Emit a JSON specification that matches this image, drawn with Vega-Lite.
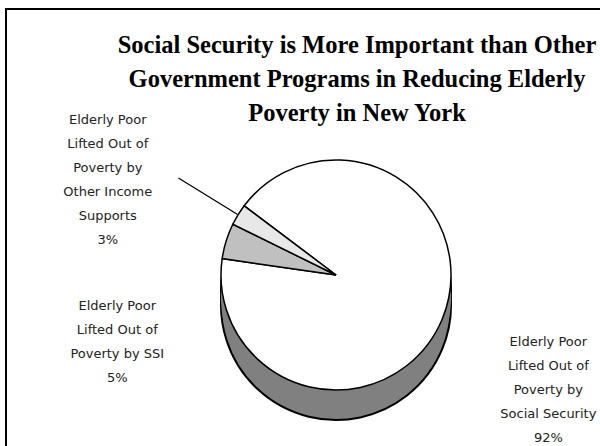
{
  "$schema": "https://vega.github.io/schema/vega-lite/v6.json",
  "width": 660,
  "height": 532,
  "autosize": {"type": "none"},
  "padding": {"left": 6, "top": 9, "right": 0, "bottom": 0},
  "background": "white",
  "view": {"stroke": "black", "strokeWidth": 2},
  "config": {"view": {"stroke": "black", "strokeWidth": 2}},
  "title": {
    "text": ["Social Security is More Important than Other", "Government Programs in Reducing Elderly", "Poverty in New York"],
    "font": "Liberation Serif",
    "fontSize": 24.5,
    "fontWeight": "bold",
    "color": "black",
    "lineHeight": 34,
    "anchor": "middle",
    "baseline": "alphabetic",
    "dx": 21,
    "offset": -136
  },
  "data": {
    "values": [
      {"source": "Social Security", "share": 92, "order": 1, "label": "Elderly Poor\nLifted Out of\nPoverty by\nSocial Security\n92%"},
      {"source": "SSI", "share": 5, "order": 2, "label": "Elderly Poor\nLifted Out of\nPoverty by SSI\n5%"},
      {"source": "Other Income Supports", "share": 3, "order": 3, "label": "Elderly Poor\nLifted Out of\nPoverty by\nOther Income\nSupports\n3%"}
    ]
  },
  "encoding": {
    "theta": {"field": "share", "type": "quantitative", "stack": true, "scale": {"range": [5.3582, 11.6414]}},
    "order": {"field": "order", "type": "quantitative"}
  },
  "layer": [
    {"mark": {"type": "arc", "outerRadius": 115, "yOffset": 30, "fill": "#808080", "stroke": "black", "strokeWidth": 2}},
    {"mark": {"type": "arc", "outerRadius": 115, "yOffset": 15, "fill": "#808080", "stroke": "black", "strokeWidth": 2}},
    {"mark": {"type": "arc", "outerRadius": 115, "yOffset": 22.5, "fill": "#808080", "strokeWidth": 0}},
    {
      "mark": {"type": "arc", "outerRadius": 115, "stroke": "black", "strokeWidth": 1.5},
      "encoding": {
        "color": {"field": "source", "type": "nominal", "legend": null,
          "scale": {"domain": ["Social Security", "SSI", "Other Income Supports"], "range": ["#ffffff", "#c0c0c0", "#e8e8e8"]}}
      }
    },
    {
      "mark": {"type": "arc", "innerRadius": 116, "outerRadius": 185, "padAngle": 1, "fill": null, "stroke": "black", "strokeWidth": 1.3},
      "encoding": {"strokeOpacity": {"condition": {"test": "datum.order === 3", "value": 1}, "value": 0}}
    },
    {
      "mark": {"type": "text", "radius": 230, "dy": -21, "align": "center", "baseline": "middle", "lineBreak": "\n", "lineHeight": 24, "font": "DejaVu Sans", "fontSize": 13, "fill": "#222"},
      "encoding": {"text": {"condition": {"test": "datum.order === 1", "field": "label"}, "value": ""}}
    },
    {
      "mark": {"type": "text", "radius": 229, "dy": 99, "align": "center", "baseline": "middle", "lineBreak": "\n", "lineHeight": 24, "font": "DejaVu Sans", "fontSize": 13, "fill": "#222"},
      "encoding": {"text": {"condition": {"test": "datum.order === 2", "field": "label"}, "value": ""}}
    },
    {
      "mark": {"type": "text", "radius": 268, "dy": -15, "align": "center", "baseline": "middle", "lineBreak": "\n", "lineHeight": 24, "font": "DejaVu Sans", "fontSize": 13, "fill": "#222"},
      "encoding": {"text": {"condition": {"test": "datum.order === 3", "field": "label"}, "value": ""}}
    }
  ]
}
